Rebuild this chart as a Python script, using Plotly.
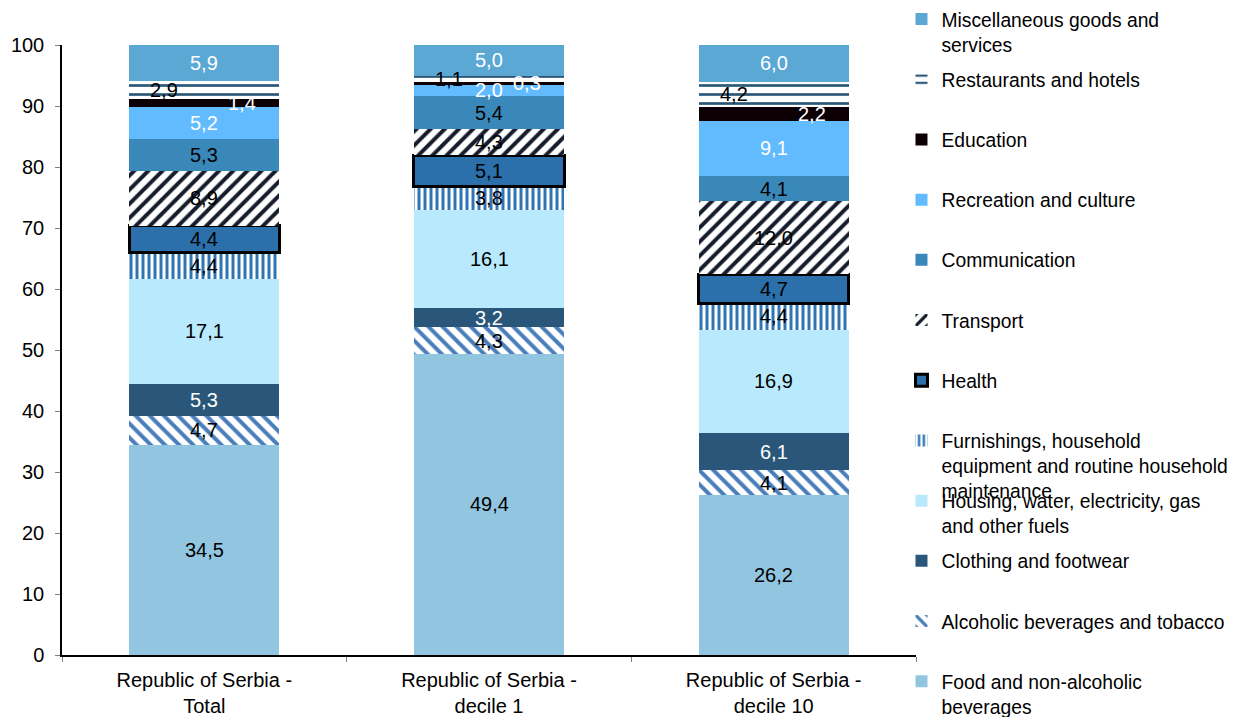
import plotly.graph_objects as go

categories = ["Republic of Serbia -<br>Total", "Republic of Serbia -<br>decile 1", "Republic of Serbia -<br>decile 10"]

series_names = [
    "Food and non-alcoholic<br>beverages",
    "Alcoholic beverages and tobacco",
    "Clothing and footwear",
    "Housing, water, electricity, gas<br>and other fuels",
    "Furnishings, household<br>equipment and routine household<br>maintenance",
    "Health",
    "Transport",
    "Communication",
    "Recreation and culture",
    "Education",
    "Restaurants and hotels",
    "Miscellaneous goods and<br>services",
]

food = [34.5, 49.4, 26.2]
alcohol = [4.7, 4.3, 4.1]
clothing = [5.3, 3.2, 6.1]
housing = [17.1, 16.1, 16.9]
furnishings = [4.4, 3.8, 4.4]
health = [4.4, 5.1, 4.7]
transport = [8.9, 4.3, 12.0]
communication = [5.3, 5.4, 4.1]
recreation = [5.2, 2.0, 9.1]
education = [1.4, 0.3, 2.2]
restaurants = [2.9, 1.1, 4.2]
misc = [5.9, 5.0, 6.0]

values = [food, alcohol, clothing, housing, furnishings, health, transport,
          communication, recreation, education, restaurants, misc]

# style per series: (fill colour, pattern shape, pattern fg, size, solidity, border width, label colour, label xshift)
styles = [
    ("#92C6E0", "", None, 0, 0, 0, "black", 0),
    ("white", "\\", "#4A7EBB", 10, 0.4, 0, "black", 0),
    ("#2A5779", "", None, 0, 0, 0, "white", 0),
    ("#B8E9FC", "", None, 0, 0, 0, "black", 0),
    ("white", "|", "#2E75B6", 6, 0.5, 0, "black", 0),
    ("#2B6FAB", "", None, 0, 0, 3, "black", 0),
    ("white", "/", "#151C2B", 10, 0.4, 0, "black", 0),
    ("#3A88B9", "", None, 0, 0, 0, "black", 0),
    ("#63BBFF", "", None, 0, 0, 0, "white", 0),
    ("#0D0004", "", None, 0, 0, 0, "white", 38),
    ("white", "-", "#2A5779", 9, 0.3, 0, "black", -40),
    ("#5BA8D5", "", None, 0, 0, 0, "white", 0),
]

FONT = "Arial, Liberation Sans, sans-serif"

# the page body adds an 8px margin, so the figure is drawn 8px smaller
W, H = 1234, 709
ML, MT, MR, MB = 54, 37, 326, 62
PLOT_H = H - MT - MB

fig = go.Figure()
n = len(values)
for i, (name, vals, st) in enumerate(zip(series_names, values, styles)):
    color, shape, fg, size, sol, lw, _, _ = st
    pattern = dict(shape=shape)
    if shape:
        pattern.update(fgcolor=fg, bgcolor=color, size=size, solidity=sol, fillmode="replace")
    legend_id = "legend" if i == n - 1 else "legend%d" % (n - i)
    fig.add_trace(go.Bar(
        x=categories, y=vals, name=name,
        marker=dict(color=color, pattern=pattern,
                    line=dict(color="black", width=lw)),
        legend=legend_id,
    ))

# data labels at segment midpoints
for ci, cat in enumerate(categories):
    base = 0
    for vals, st in zip(values, styles):
        v = vals[ci]
        fig.add_annotation(
            x=cat, y=base + v / 2, xref="x", yref="y",
            text=("%.1f" % v).replace(".", ","), showarrow=False,
            xshift=st[7], font=dict(family=FONT, size=20, color=st[6]),
        )
        base += v

# one legend box per series, stacked top to bottom (Misc first)
legend_style = dict(font=dict(family=FONT, size=19.3, color="black"),
                    bgcolor="rgba(0,0,0,0)", valign="top",
                    x=0.983, xanchor="left", yanchor="top",
                    itemclick=False, itemdoubleclick=False)
layout_legends = {}
for k in range(n):
    center_px = 21 + 60.2 * k - 8
    top_px = center_px - 21
    y_paper = 1 - (top_px - MT) / PLOT_H
    key = "legend" if k == 0 else "legend%d" % (k + 1)
    layout_legends[key] = dict(legend_style, y=y_paper)

fig.update_layout(
    barmode="stack",
    bargap=0.473,
    width=W, height=H,
    margin=dict(l=ML, r=MR, t=MT, b=MB, autoexpand=False),
    paper_bgcolor="white", plot_bgcolor="white",
    font=dict(family=FONT, size=20, color="black"),
    showlegend=True,
    **layout_legends,
)
fig.update_yaxes(range=[0, 100], dtick=10, showgrid=False, zeroline=False,
                 showline=True, linecolor="black", linewidth=1.5,
                 ticks="outside", ticklen=5, tickcolor="#808080", ticklabelstandoff=7,
                 tickfont=dict(family=FONT, size=20, color="black"))
fig.update_xaxes(showgrid=False, showline=True, linecolor="black", linewidth=1.5,
                 ticks="outside", ticklen=5, tickcolor="#808080", tickson="boundaries",
                 ticklabelstandoff=6,
                 tickfont=dict(family=FONT, size=20, color="black"))

fig.write_html("out.html")
